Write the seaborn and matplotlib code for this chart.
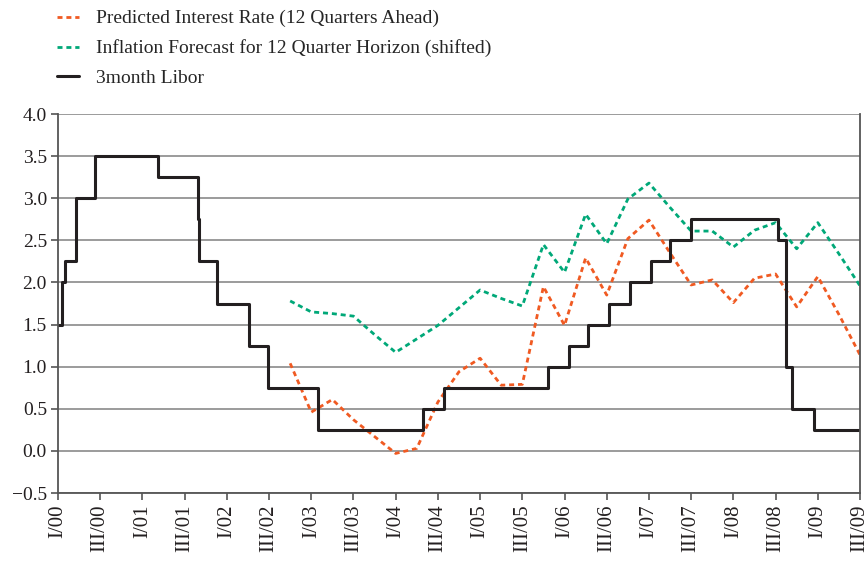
import matplotlib
matplotlib.use("Agg")
import matplotlib.pyplot as plt
import seaborn as sns
import pandas as pd

# quarters counted from I/00 = 0
forecast_q = list(range(11, 39))
pred_rate = [1.04, 0.46, 0.61, 0.37, 0.17, -0.03, 0.03, 0.58, 0.94, 1.10,
             0.78, 0.79, 1.95, 1.49, 2.29, 1.85, 2.52, 2.74, 2.35, 1.97,
             2.03, 1.76, 2.05, 2.10, 1.71, 2.07, 1.62, 1.14]
inflation = [1.78, 1.65, 1.63, 1.60, 1.38, 1.17, 1.33, 1.49, 1.70, 1.91,
             1.81, 1.72, 2.45, 2.12, 2.81, 2.46, 2.99, 3.18, 2.89, 2.61,
             2.61, 2.42, 2.62, 2.71, 2.40, 2.71, 2.34, 1.96]

# 3month Libor: quarter of each change and new level
libor_q = [0, 0.17, 0.33, 0.85, 1.77, 4.72, 6.65, 6.7, 7.55, 9.07, 9.97,
           12.34, 17.3, 18.3, 23.2, 24.2, 25.1, 26.1, 27.1, 28.1, 29.0,
           30.0, 34.1, 34.5, 34.8, 35.8, 38]
libor = [1.5, 2.0, 2.25, 3.0, 3.5, 3.25, 2.75, 2.25, 1.75, 1.25, 0.75,
         0.25, 0.5, 0.75, 1.0, 1.25, 1.5, 1.75, 2.0, 2.25, 2.5,
         2.75, 2.5, 1.0, 0.5, 0.25, 0.25]

xtick_labels = ["I/00", "III/00", "I/01", "III/01", "I/02", "III/02", "I/03",
                "III/03", "I/04", "III/04", "I/05", "III/05", "I/06", "III/06",
                "I/07", "III/07", "I/08", "III/08", "I/09", "III/09"]
ytick_vals = [-0.5, 0.0, 0.5, 1.0, 1.5, 2.0, 2.5, 3.0, 3.5, 4.0]
ytick_labels = ["\u22120.5", "0.0", "0.5", "1.0", "1.5", "2.0", "2.5",
                "3.0", "3.5", "4.0"]

sns.set_style("white")
plt.rcParams["font.family"] = ["Liberation Serif", "DejaVu Serif"]
plt.rcParams["font.size"] = 14

ORANGE = "#f05a22"
GREEN = "#00a878"
BLACK = "#231f20"
GRID = "#8a8a8a"

fig = plt.figure(figsize=(8.68, 5.63), dpi=100)
ax = fig.add_axes([58 / 868, 1 - 493 / 563, 802 / 868, 379 / 563])

fc = pd.DataFrame({"q": forecast_q, "pred": pred_rate, "infl": inflation})
lb = pd.DataFrame({"q": libor_q, "libor": libor})

sns.lineplot(data=fc, x="q", y="pred", ax=ax, color=ORANGE, lw=2,
             linestyle=(0, (1.8, 1.4)), label="Predicted Interest Rate (12 Quarters Ahead)")
sns.lineplot(data=fc, x="q", y="infl", ax=ax, color=GREEN, lw=2,
             linestyle=(0, (1.8, 1.4)), label="Inflation Forecast for 12 Quarter Horizon (shifted)")
sns.lineplot(data=lb, x="q", y="libor", ax=ax, color=BLACK, lw=2.2,
             drawstyle="steps-post", label="3month Libor")

ax.set_xlim(0, 38)
ax.set_ylim(-0.5, 4.0)
ax.set_xticks(range(0, 39, 2))
ax.set_xticklabels(xtick_labels, rotation=90, fontsize=15)
ax.set_yticks(ytick_vals)
ax.set_yticklabels(ytick_labels)
ax.set_xlabel("")
ax.set_ylabel("")

ax.yaxis.grid(True, color=GRID, lw=1.2)
ax.set_axisbelow(True)
ax.spines["top"].set_visible(False)
for s in ["left", "right", "bottom"]:
    ax.spines[s].set_color("#555555")
    ax.spines[s].set_linewidth(1.3)
ax.tick_params(axis="both", direction="out", length=5, width=1.2,
               color="#555555", labelcolor="#231f20", pad=3)
ax.tick_params(axis="y", labelsize=14)
ax.tick_params(left=True, bottom=True)

ax.legend(loc="upper left", bbox_to_anchor=(47 / 868, 1 - 0 / 563),
          bbox_transform=fig.transFigure, frameon=False, borderpad=0,
          handlelength=1.15, handletextpad=0.85, labelspacing=0.62,
          fontsize=14)

fig.savefig("out.png", dpi=100)
